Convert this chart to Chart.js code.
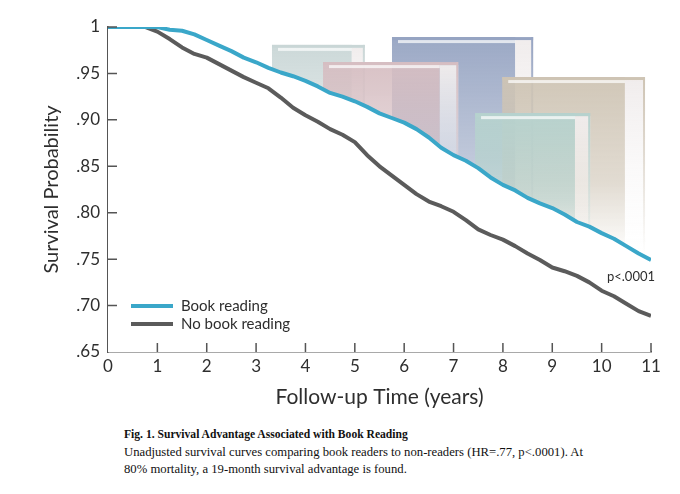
<!DOCTYPE html>
<html>
<head>
<meta charset="utf-8">
<script src="https://cdn.jsdelivr.net/npm/chart.js@4.4.1/dist/chart.umd.min.js"></script>
<style>
body{margin:0;background:#fff;width:680px;height:494px;overflow:hidden;position:relative;}
#survivalChart{display:block;}
#caption{position:absolute;left:124px;top:426px;font-family:"Liberation Serif","Times New Roman",serif;font-size:12.7px;line-height:17.5px;color:#111;}
#caption b{font-size:11.6px;}
</style>
</head>
<body>
<canvas id="survivalChart" width="680" height="415"></canvas>
<div id="caption"><b>Fig. 1. Survival Advantage Associated with Book Reading</b><br>Unadjusted survival curves comparing book readers to non-readers (HR=.77, p&lt;.0001). At<br>80% mortality, a 19-month survival advantage is found.</div>

<script>
// =======================================
// DATA
// =======================================

const seriesLabels = ["Book reading", "No book reading"];

const followUpYears = [
    0, 0.25, 0.5, 0.75, 1, 1.25, 1.5, 1.75, 2, 2.25, 2.5, 2.75,
    3, 3.25, 3.5, 3.75, 4, 4.25, 4.5, 4.75, 5, 5.25, 5.5, 5.75,
    6, 6.25, 6.5, 6.75, 7, 7.25, 7.5, 7.75, 8, 8.25, 8.5, 8.75,
    9, 9.25, 9.5, 9.75, 10, 10.25, 10.5, 10.75, 11
];

const bookReading = [
    1.000, 1.000, 1.000, 1.000, 1.000, 0.997, 0.996, 0.992, 0.986, 0.980, 0.974, 0.967,
    0.962, 0.956, 0.951, 0.947, 0.942, 0.936, 0.929, 0.925, 0.920, 0.914, 0.907, 0.902,
    0.897, 0.890, 0.881, 0.870, 0.862, 0.856, 0.848, 0.838, 0.830, 0.824, 0.816, 0.810,
    0.805, 0.798, 0.790, 0.785, 0.778, 0.772, 0.764, 0.756, 0.749
];

const noBookReading = [
    1.000, 1.000, 1.000, 1.000, 0.995, 0.987, 0.978, 0.971, 0.967, 0.960, 0.953, 0.946,
    0.940, 0.934, 0.924, 0.913, 0.905, 0.898, 0.890, 0.884, 0.876, 0.862, 0.850, 0.840,
    0.830, 0.820, 0.812, 0.807, 0.801, 0.792, 0.782, 0.776, 0.771, 0.764, 0.756, 0.749,
    0.741, 0.737, 0.732, 0.725, 0.716, 0.710, 0.702, 0.694, 0.689
];

const xTicks = [0, 1, 2, 3, 4, 5, 6, 7, 8, 9, 10, 11];
const yTicks = [0.65, 0.70, 0.75, 0.80, 0.85, 0.90, 0.95, 1];

const pValueText = "p<.0001";

// =======================================
// STYLE
// =======================================

const FONT = "Lato, 'Open Sans', sans-serif";
const BLUE = "#3aa7c9";
const GRAY = "#5b5b5b";
const AXIS = "#555555";
const TEXT = "#2e2e2e";

// decorative books behind the curves (fractions of the chart area)
const books = [
    {l: 0.302, f: 0.449, r: 0.473, t: 0.055, b: 0.40, c: "201,214,214"},
    {l: 0.523, f: 0.750, r: 0.783, t: 0.031, b: 0.66, c: "150,164,194"},
    {l: 0.396, f: 0.611, r: 0.645, t: 0.108, b: 0.55, c: "214,190,194"},
    {l: 0.726, f: 0.952, r: 0.989, t: 0.154, b: 0.70, c: "206,196,180"},
    {l: 0.676, f: 0.860, r: 0.888, t: 0.265, b: 0.70, c: "182,210,206"}
];

const booksPlugin = {
    id: "books",
    beforeDraw(chart) {
        const {ctx, chartArea: a} = chart;
        const w = a.right - a.left, h = a.bottom - a.top;
        ctx.save();
        books.forEach(bk => {
            const x0 = a.left + bk.l * w, xf = a.left + bk.f * w, x1 = a.left + bk.r * w;
            const y0 = a.top + bk.t * h, y1 = a.top + bk.b * h;
            // cover face
            let g = ctx.createLinearGradient(0, y0, 0, y1);
            g.addColorStop(0, "rgba(" + bk.c + ",0.95)");
            g.addColorStop(0.6, "rgba(" + bk.c + ",0.6)");
            g.addColorStop(1, "rgba(" + bk.c + ",0)");
            ctx.fillStyle = g;
            ctx.fillRect(x0, y0, xf - x0, y1 - y0);
            // pages
            g = ctx.createLinearGradient(0, y0, 0, y1);
            g.addColorStop(0, "rgba(240,236,236,1)");
            g.addColorStop(1, "rgba(250,250,250,0)");
            ctx.fillStyle = g;
            ctx.fillRect(xf, y0 + 3, x1 - xf, y1 - y0 - 3);
            // cover top lip
            ctx.fillStyle = "rgba(" + bk.c + ",1)";
            ctx.fillRect(x0, y0, x1 - x0, 3);
            ctx.fillStyle = "rgba(255,255,255,0.7)";
            ctx.fillRect(x0 + 6, y0 + 3, xf - x0 - 6, 3);
            // back cover edge
            g = ctx.createLinearGradient(0, y0, 0, y1);
            g.addColorStop(0, "rgba(" + bk.c + ",1)");
            g.addColorStop(1, "rgba(" + bk.c + ",0)");
            ctx.fillStyle = g;
            ctx.fillRect(x1 - 2, y0, 2, y1 - y0);
        });
        ctx.restore();
    }
};

const decorPlugin = {
    id: "decor",
    afterDraw(chart) {
        const {ctx, chartArea: a, scales: {x, y}} = chart;
        ctx.save();

        // inward tick marks
        ctx.strokeStyle = AXIS;
        ctx.lineWidth = 1.5;
        ctx.beginPath();
        xTicks.slice(1).forEach(v => {
            const px = x.getPixelForValue(v);
            ctx.moveTo(px, a.bottom);
            ctx.lineTo(px, a.bottom - 9);
        });
        yTicks.slice(1).forEach(v => {
            const py = y.getPixelForValue(v);
            ctx.moveTo(a.left, py);
            ctx.lineTo(a.left + 9, py);
        });
        ctx.stroke();

        // legend inside the plot
        ctx.font = "15px " + FONT;
        ctx.textBaseline = "middle";
        ctx.lineWidth = 4;
        chart.data.datasets.forEach((ds, i) => {
            const ly = a.bottom - 46 + i * 18;
            ctx.strokeStyle = ds.borderColor;
            ctx.beginPath();
            ctx.moveTo(a.left + 23, ly);
            ctx.lineTo(a.left + 65, ly);
            ctx.stroke();
            ctx.fillStyle = TEXT;
            ctx.fillText(ds.label, a.left + 73, ly);
        });

        // p value
        ctx.font = "13px " + FONT;
        ctx.textAlign = "right";
        ctx.fillText(pValueText, a.right + 4, y.getPixelForValue(0.731));
        ctx.restore();
    }
};

// =======================================
// SURVIVAL CURVES
// =======================================

const survivalChart = new Chart(
document.getElementById("survivalChart"),
{
    type: "line",

    data: {
        datasets: [{
            label: seriesLabels[0],
            data: followUpYears.map((t, i) => ({x: t, y: bookReading[i]})),
            borderColor: BLUE,
            backgroundColor: "#ffffff",
            fill: "start",
            borderWidth: 4,
            borderJoinStyle: "round",
            pointRadius: 0
        }, {
            label: seriesLabels[1],
            data: followUpYears.map((t, i) => ({x: t, y: noBookReading[i]})),
            borderColor: GRAY,
            fill: false,
            borderWidth: 4,
            borderJoinStyle: "round",
            pointRadius: 0
        }]
    },

    plugins: [booksPlugin, decorPlugin],

    options: {
        responsive: false,
        animation: false,
        layout: {
            padding: {top: 27, right: 29, left: 0, bottom: 0}
        },
        plugins: {
            legend: {display: false},
            tooltip: {enabled: false},
            filler: {drawTime: "beforeDatasetsDraw"}
        },
        scales: {
            x: {
                type: "linear",
                min: 0,
                max: 11,
                afterBuildTicks: s => { s.ticks = xTicks.map(v => ({value: v})); },
                afterFit: s => { s.height = 63; },
                grid: {display: false, drawTicks: false},
                border: {color: AXIS, width: 1.5},
                ticks: {
                    padding: 4,
                    color: TEXT,
                    font: {family: FONT, size: 17}
                },
                title: {
                    display: true,
                    text: "Follow-up Time (years)",
                    color: TEXT,
                    font: {family: FONT, size: 21},
                    padding: {top: 0, bottom: 5}
                }
            },
            y: {
                min: 0.65,
                max: 1,
                afterBuildTicks: s => { s.ticks = yTicks.map(v => ({value: v})); },
                afterFit: s => { s.width = 108; },
                grid: {display: false, drawTicks: false},
                border: {color: AXIS, width: 1.5},
                ticks: {
                    padding: 8,
                    color: TEXT,
                    font: {family: FONT, size: 17},
                    callback: v => v === 1 ? "1" : v.toFixed(2).replace(/^0/, "")
                },
                title: {
                    display: true,
                    text: "Survival Probability",
                    color: TEXT,
                    font: {family: FONT, size: 20},
                    padding: {top: 40, bottom: 0}
                }
            }
        }
    }
});
</script>
</body>
</html>
